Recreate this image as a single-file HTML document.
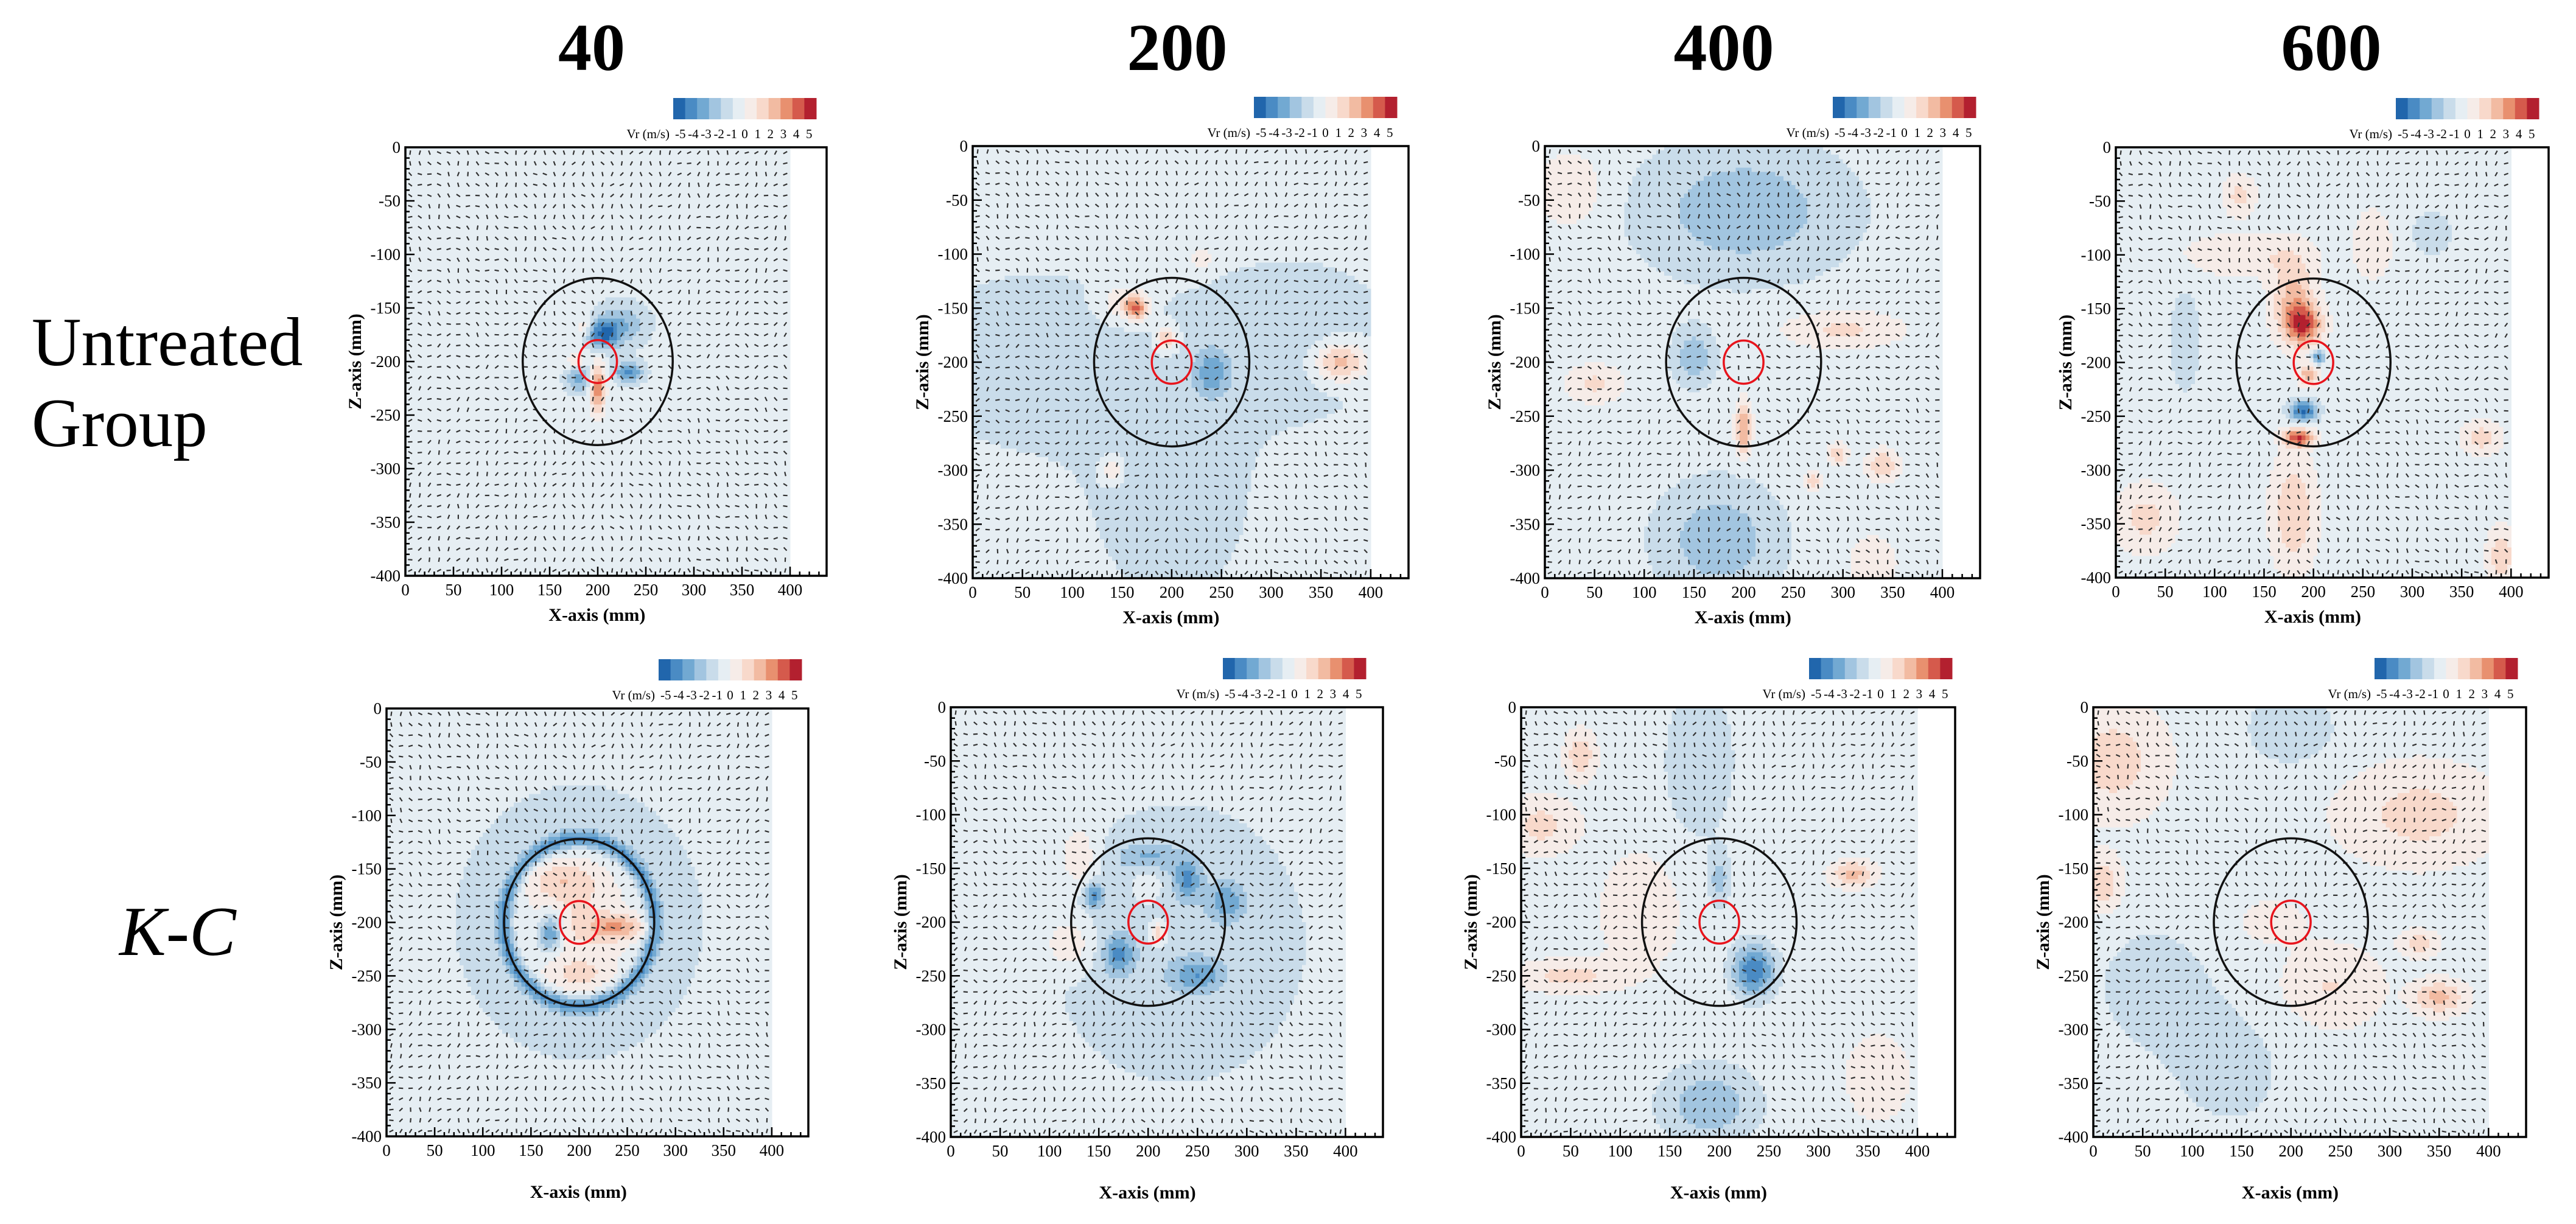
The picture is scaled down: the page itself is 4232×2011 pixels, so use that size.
<!DOCTYPE html>
<html><head><meta charset="utf-8">
<style>
html,body{margin:0;padding:0;background:#fff;}
svg{display:block;font-family:"Liberation Serif",serif;}
</style></head>
<body>
<svg id="fig" width="4232" height="2011" viewBox="0 0 4232 2011" xmlns="http://www.w3.org/2000/svg">
<rect width="4232" height="2011" fill="#fff"/>
<text x="972" y="115" font-size="110" font-weight="bold" text-anchor="middle">40</text>
<text x="1934" y="115" font-size="110" font-weight="bold" text-anchor="middle">200</text>
<text x="2832" y="115" font-size="110" font-weight="bold" text-anchor="middle">400</text>
<text x="3830" y="115" font-size="110" font-weight="bold" text-anchor="middle">600</text>
<text x="52" y="600" font-size="113">Untreated</text>
<text x="52" y="733" font-size="113">Group</text>
<text x="196" y="1569" font-size="115" font-style="italic">K-C</text>
<g id="panels"></g>
</svg>
<script>
// Colour scale (Vr, m/s) bins and tick labels
const palette = ['#2166ac','#4a8bc4','#72a9d2','#a2c5e0','#c9dcea','#e6eef3','#f6ece8','#f8d9cb','#f2bba2','#e8906f','#d55a4c','#b3202f'];
const cbLabels = ['-5','-4','-3','-2','-1','0','1','2','3','4','5'];
const xTicks = [0,50,100,150,200,250,300,350,400];
const zTicks = [0,-50,-100,-150,-200,-250,-300,-350,-400];
// Field features per panel: [x(mm), depth(mm), amplitude(m/s), sigmaX, sigmaZ, ringRadius(optional)]
const blobsU40 = [[205,175,-4,10,8],[225,165,-2.4,16,12],[232,210,-4,9,6],[180,215,-3,8,8],[200,225,4.5,4.5,14],[178,200,2.2,6,5],[185,168,1.8,5,5]];
const blobsU200 = [[60,200,-0.9,75,55],[320,180,-0.9,70,50],[200,330,-0.9,50,60],[165,150,4.2,7,7],[195,178,3.2,6,7],[240,210,-2.6,11,13],[370,200,3.6,16,11],[140,300,2.2,6,7],[230,105,1.8,7,6],[150,145,1.8,14,10]];
const blobsU400 = [[200,60,-2.2,60,35],[175,365,-2.2,35,30],[150,195,-2.3,12,15],[200,262,3.6,5,15],[50,220,1.8,18,11],[25,40,1.5,22,22],[300,170,1.8,38,11],[295,285,2.4,6,6],[340,295,2.4,11,9],[270,310,2,6,6],[330,385,1.6,15,15]];
const blobsU600 = [[190,165,4.8,11,11],[180,140,2.8,13,22],[185,270,5.2,9,5],[190,245,-5,9,6],[205,195,-4,4,4],[195,212,3.2,6,6],[180,340,2.4,13,30],[130,100,1.4,38,11],[260,90,1.4,11,18],[70,180,-1.2,11,34],[320,80,-1.2,15,15],[30,345,1.8,18,18],[390,380,2.4,8,15],[370,270,1.9,11,9],[125,45,1.8,9,11]];
const blobsK40 = [[200,200,-3.2,5,5,78],[200,200,-1.1,20,20,100],[200,200,1.5,32,32],[180,160,1.8,22,11],[240,205,3,18,7],[170,210,-4.2,8,11],[200,250,1.4,22,9]];
const blobsK200 = [[230,220,-1.2,85,85],[200,140,-2.4,18,9],[240,160,-3,8,11],[145,175,-3.4,6,7],[170,230,-3,9,11],[250,250,-2.4,15,9],[280,180,-2.4,11,11],[130,140,1.8,11,18],[120,220,1.8,15,15],[210,210,3.2,5,7],[200,160,1.3,11,15]];
const blobsK400 = [[60,45,2.3,9,13],[20,110,1.8,22,15],[50,250,1.8,30,9],[335,155,2.8,13,7],[200,160,-2,7,15],[235,245,-4.5,13,15],[190,370,-2.4,30,22],[180,50,-1.5,22,45],[360,345,1.4,18,22],[120,190,1.4,22,30]];
const blobsK600 = [[20,50,1.9,30,30],[10,165,2.3,11,15],[330,100,1.8,45,26],[350,270,2.8,15,9],[330,220,1.9,11,7],[60,260,-1,45,45],[140,340,-1,38,38],[200,20,-1.4,30,22],[240,260,1.4,30,22],[180,200,1.2,18,11]];

const panels = [
 {name:'untreated-40', L:666, T:242, W:692, H:704, cbR:1341, xtOff:74, base:-0.6, blobs:blobsU40},
 {name:'untreated-200', L:1598, T:240, W:716, H:710, cbR:2295, xtOff:74, base:-0.6, blobs:blobsU200},
 {name:'untreated-400', L:2538, T:240, W:715, H:710, cbR:3246, xtOff:74, base:-0.6, blobs:blobsU400},
 {name:'untreated-600', L:3476, T:242, W:711, H:707, cbR:4171, xtOff:74, base:-0.4, blobs:blobsU600},
 {name:'kc-40', L:635, T:1164, W:693, H:703, cbR:1317, xtOff:101, base:-0.5, blobs:blobsK40},
 {name:'kc-200', L:1562, T:1162, W:710, H:706, cbR:2244, xtOff:101, base:-0.5, blobs:blobsK200},
 {name:'kc-400', L:2499, T:1162, W:713, H:706, cbR:3207, xtOff:101, base:-0.4, blobs:blobsK400},
 {name:'kc-600', L:3439, T:1162, W:711, H:706, cbR:4136, xtOff:101, base:-0.35, blobs:blobsK600}
];
const SIG=1.15;
const NS='http://www.w3.org/2000/svg';
function mk(tag, attrs, parent){const e=document.createElementNS(NS,tag);for(const k in attrs)e.setAttribute(k,attrs[k]);parent.appendChild(e);return e;}
function field(p,x,z){let v=p.base;for(const b of p.blobs){let q;const s1=b[3]*SIG,s2=b[4]*SIG;if(b.length>5){const d=Math.hypot(x-b[0],z-b[1])-b[5];q=d*d/(2*s1*s1);}else{const dx=x-b[0],dz=z-b[1];q=dx*dx/(2*s1*s1)+dz*dz/(2*s2*s2);}v+=b[2]*Math.exp(-q);}return v;}
function bin(v){return Math.max(0,Math.min(11,Math.floor(v)+6));}
const root=document.getElementById('panels');
panels.forEach(p=>{
  const g=mk('g',{},root);
  
  
  const sx=x=>p.L+x*p.W/438, sz=z=>p.T+(-z)*p.H/400;
  const hg=mk('g',{'shape-rendering':'crispEdges'},g);
  
  
  const st=4;
  for(let z=0;z<400;z+=st){
    let run=-1,runStart=0;
    for(let x=0;x<=400;x+=st){
      const c = x<400? bin(field(p,x+st/2,z+st/2)) : -2;
      if(c!==run){
        if(run>=0){const r=mk('rect',{x:sx(runStart).toFixed(1),y:sz(-z).toFixed(1),width:(sx(x)-sx(runStart)+0.6).toFixed(1),height:(p.H*st/400+0.6).toFixed(1),fill:palette[run]},hg);
          
          }
        run=c;runStart=x;
      }
    }
  }
  let d='';
  for(let x=5;x<400;x+=10)for(let z=5;z<400;z+=10){
    const a=Math.atan2(z-200,x-200)+0.7*Math.sin(0.11*x+0.07*z)+0.4*Math.cos(0.05*x-0.13*z);
    const cx=sx(x),cy=sz(-z),l=3.6;
    d+='M'+(cx-l*Math.cos(a)).toFixed(1)+' '+(cy-l*Math.sin(a)).toFixed(1)+'L'+(cx+l*Math.cos(a)).toFixed(1)+' '+(cy+l*Math.sin(a)).toFixed(1);
  }
  const vp=mk('path',{d:d,stroke:'#333','stroke-width':2.2,fill:'none'},g);
  
  
  const oc=mk('ellipse',{cx:sx(200),cy:sz(-200),rx:78*p.W/438,ry:78*p.H/400,fill:'none',stroke:'#111','stroke-width':3.5},g);
  
  
  const rc=mk('ellipse',{cx:sx(200),cy:sz(-200),rx:20*p.W/438,ry:20*p.H/400,fill:'none',stroke:'#e8141c','stroke-width':3.5},g);
  
  
  const fr=mk('rect',{x:p.L,y:p.T,width:p.W,height:p.H,fill:'none',stroke:'#000','stroke-width':3.5},g);
  
  
  let td='';
  for(let x=0;x<=430;x+=10){const L=(x%50===0)?15:7;td+='M'+sx(x).toFixed(1)+' '+(p.T+p.H)+'v'+(-L);}
  for(let z=0;z>=-400;z-=10){const L=(z%50===0)?15:7;td+='M'+p.L+' '+sz(z).toFixed(1)+'h'+L;}
  const tp=mk('path',{d:td,stroke:'#000','stroke-width':2.5,fill:'none'},g);
  
  
  xTicks.forEach(v=>{const t=mk('text',{x:sx(v),y:p.T+p.H+32,'font-size':27,'text-anchor':'middle'},g);t.textContent=v;
    
    });
  zTicks.forEach(v=>{const t=mk('text',{x:p.L-8,y:sz(v)+9,'font-size':27,'text-anchor':'end'},g);t.textContent=v;
    
    });
  const xt=mk('text',{x:p.L+p.W*0.455,y:p.T+p.H+p.xtOff,'font-size':30,'font-weight':'bold','text-anchor':'middle'},g);xt.textContent='X-axis (mm)';
  
  
  const yx=p.L-83,yy=p.T+p.H/2;
  const yt=mk('text',{x:yx,y:yy,'font-size':30,'font-weight':'bold','text-anchor':'middle',transform:'rotate(-90 '+yx+' '+yy+')',dy:10},g);yt.textContent='Z-axis (mm)';
  
  
  const cg=mk('g',{},g);
  
  
  const cw=235,ch=35,cl=p.cbR-cw,ct=p.T-81,seg=cw/12;
  palette.forEach((c,i)=>{const r=mk('rect',{x:(cl+i*seg).toFixed(1),y:ct,width:(seg+0.5).toFixed(1),height:ch,fill:c},cg);
    
    });
  cbLabels.forEach((s,k)=>{const t=mk('text',{x:(cl+(0.6+k*1.08)*seg).toFixed(1),y:p.T-15,'font-size':21,'text-anchor':'middle'},cg);t.textContent=s;
    
    });
  const vl=mk('text',{x:cl-6,y:p.T-15,'font-size':21,'text-anchor':'end'},cg);vl.textContent='Vr (m/s)';
  
  
});
</script>
</body></html>
